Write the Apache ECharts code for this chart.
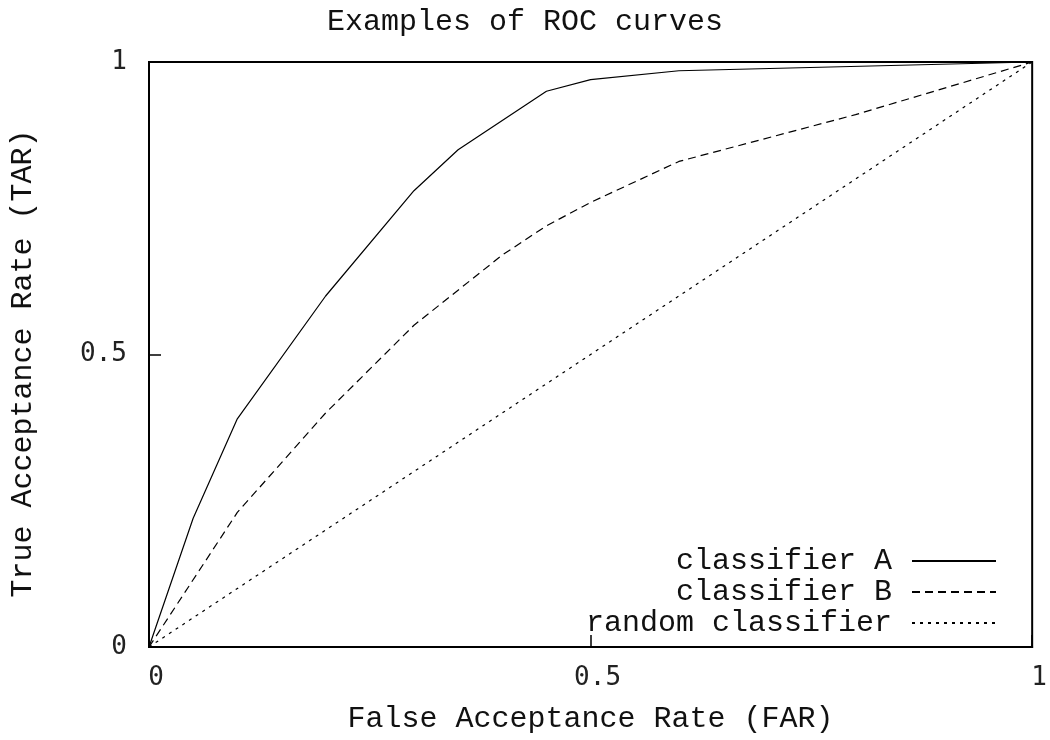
<!DOCTYPE html>
<html>
<head>
<meta charset="utf-8">
<script src="https://cdn.jsdelivr.net/npm/echarts@6/dist/echarts.min.js"></script>
<style>html,body{margin:0;padding:0;background:#fff}#c{width:1050px;height:740px}</style>
</head>
<body>
<div id="c"></div>
<script>
const titleText = 'Examples of ROC curves';
const xName = 'False Acceptance Rate (FAR)';
const yName = 'True Acceptance Rate (TAR)';
const seriesNames = ['classifier A', 'classifier B', 'random classifier'];
const farA = [0, 0.05, 0.1, 0.2, 0.3, 0.35, 0.45, 0.5, 0.6, 1];
const tarA = [0, 0.22, 0.39, 0.6, 0.78, 0.85, 0.95, 0.97, 0.985, 1];
const farB = [0, 0.1, 0.2, 0.3, 0.4, 0.45, 0.5, 0.6, 0.8, 1];
const tarB = [0, 0.23, 0.4, 0.55, 0.67, 0.72, 0.76, 0.83, 0.91, 1];
const farR = [0, 1];
const tarR = [0, 1];
const tickLabels = {0: '0', 0.5: '0.5', 1: '1'};

const pairs = (xs, ys) => xs.map((x, i) => [x, ys[i]]);
const mono = 'Liberation Mono';
const tickFont = 'DejaVu Sans Mono';

const chart = echarts.init(document.getElementById('c'), null, {renderer: 'canvas'});
chart.setOption({
  animation: false,
  backgroundColor: '#fff',
  title: {
    text: titleText, left: 'center', top: 2,
    textStyle: {fontFamily: mono, fontSize: 30, fontWeight: 'normal', color: '#111'}
  },
  grid: {left: 146, right: 16, top: 62, bottom: 93, show: true, borderColor: '#000', borderWidth: 2},
  legend: {
    orient: 'vertical', right: 53, top: 546, padding: 0, itemGap: 1,
    align: 'right', itemWidth: 84, itemHeight: 14, selectedMode: false,
    itemStyle: {opacity: 0},
    textStyle: {fontFamily: mono, fontSize: 30, color: '#111', padding: [0, 15, 0, 0], lineHeight: 30},
    data: seriesNames
  },
  xAxis: {
    type: 'value', min: 0, max: 1, interval: 0.5,
    name: xName, nameLocation: 'middle', nameGap: 57,
    nameTextStyle: {fontFamily: mono, fontSize: 30, color: '#111'},
    axisLine: {show: true, lineStyle: {color: '#000', width: 2}},
    axisTick: {show: true, inside: true, length: 12, lineStyle: {color: '#000', width: 1.5}},
    axisLabel: {fontFamily: tickFont, fontSize: 26, color: '#222', margin: 18, padding: [0, 0, 0, 14],
      formatter: v => tickLabels[v] !== undefined ? tickLabels[v] : ''},
    splitLine: {show: false}
  },
  yAxis: {
    type: 'value', min: 0, max: 1, interval: 0.5,
    name: yName, nameLocation: 'middle', nameGap: 111,
    nameTextStyle: {fontFamily: mono, fontSize: 30, color: '#111', padding: [0, 18, 0, 0]},
    axisLine: {show: true, lineStyle: {color: '#000', width: 2}},
    axisTick: {show: true, inside: true, length: 12, lineStyle: {color: '#000', width: 1.5}},
    axisLabel: {fontFamily: tickFont, fontSize: 26, color: '#222', margin: 22,
      formatter: v => tickLabels[v] !== undefined ? tickLabels[v] : ''},
    splitLine: {show: false}
  },
  series: [
    {name: seriesNames[0], type: 'line', data: pairs(farA, tarA), symbol: 'none',
      lineStyle: {color: '#000', width: 1.2, type: 'solid'}, itemStyle: {color: '#000'}},
    {name: seriesNames[1], type: 'line', data: pairs(farB, tarB), symbol: 'none',
      lineStyle: {color: '#000', width: 1.2, type: [8, 5]}, itemStyle: {color: '#000'}},
    {name: seriesNames[2], type: 'line', data: pairs(farR, tarR), symbol: 'none',
      lineStyle: {color: '#000', width: 1.2, type: [3, 5]}, itemStyle: {color: '#000'}}
  ]
});
</script>
</body>
</html>
